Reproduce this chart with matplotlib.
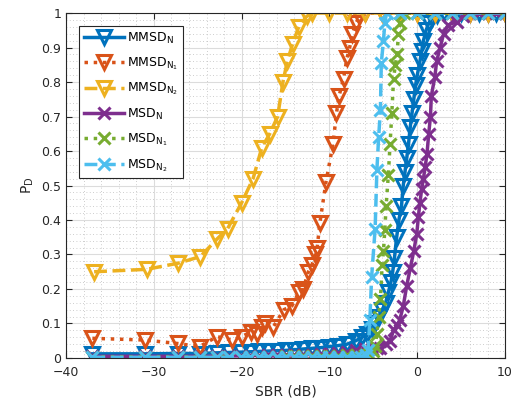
import matplotlib
matplotlib.use("Agg")
import matplotlib.pyplot as plt
from matplotlib.ticker import MultipleLocator

plt.rcParams['font.family'] = ['DejaVu Sans']
plt.rcParams['mathtext.default'] = 'regular'

low_x = [-37, -31, -27.3, -24.8, -22.8, -21.4, -20.1, -19, -18, -17, -16, -15,
         -14, -13, -12, -11, -10, -9, -8, -7]

# MMSD_N
mmsd_n_x = low_x + [-6.3, -5.7, -5.2, -4.8, -4.4, -4.0, -3.6, -3.3, -3.0, -2.8, -2.6,
                    -2.35, -2.1, -1.8, -1.6, -1.4, -1.2, -1.0, -0.8, -0.6, -0.4, -0.2,
                    0.0, 0.3, 0.5, 0.7, 1.0, 1.3, 1.7, 2.2, 3, 4, 5, 6, 7, 8, 9, 10]
mmsd_n_y = [0.012, 0.012, 0.013, 0.013, 0.015, 0.016, 0.017, 0.018, 0.019, 0.02,
            0.021, 0.022, 0.024, 0.026, 0.028, 0.03, 0.033, 0.036, 0.04, 0.05,
            0.06, 0.07, 0.085, 0.10, 0.12, 0.14, 0.16, 0.19, 0.22, 0.25, 0.29,
            0.35, 0.40, 0.44, 0.50, 0.54, 0.58, 0.62, 0.67, 0.71, 0.75, 0.79,
            0.82, 0.86, 0.89, 0.92, 0.95, 0.97, 0.985, 0.995, 1, 1, 1, 1, 1, 1, 1, 1]

# MMSD_N1
mmsd_n1_x = [-37, -31, -27.3, -24.8, -22.8, -21.1, -20, -18.9, -18.3, -17.7, -17.3,
             -16.4, -15.2, -14.3, -13.5, -13.0, -12.4, -12.0, -11.6, -11.4, -11.1,
             -10.4, -9.6, -9.2, -8.9, -8.4, -8.0, -7.7, -7.4, -7.0, -6.6, -6, -4,
             -2, 0, 2, 4, 6, 8, 10]
mmsd_n1_y = [0.057, 0.052, 0.042, 0.033, 0.062, 0.052, 0.062, 0.076, 0.07, 0.09, 0.10,
             0.09, 0.14, 0.15, 0.19, 0.20, 0.25, 0.27, 0.30, 0.32, 0.39,
             0.51, 0.62, 0.71, 0.76, 0.81, 0.87, 0.90, 0.94, 0.97, 0.99, 1, 1,
             1, 1, 1, 1, 1, 1, 1]

# MMSD_N2
mmsd_n2_x = [-36.8, -30.8, -27.2, -24.7, -22.8, -21.6, -20.0, -18.7, -17.7, -16.8,
             -15.9, -15.3, -14.8, -14.2, -13.5, -12.6, -12, -10, -8, -6, -4, -2,
             0, 2, 4, 6, 8, 10]
mmsd_n2_y = [0.25, 0.257, 0.275, 0.294, 0.345, 0.375, 0.45, 0.52, 0.61, 0.65,
             0.70, 0.80, 0.86, 0.91, 0.96, 0.99, 1, 1, 1, 1, 1, 1,
             1, 1, 1, 1, 1, 1]

# MSD_N
msd_n_x = low_x + [-6, -5.2, -4.6, -4.2, -3.6, -3.1, -2.7, -2.3, -2.0, -1.6, -1.2,
                   -0.8, -0.4, -0.06, 0.13, 0.3, 0.5, 0.7, 0.9, 1.1, 1.3, 1.5, 1.6,
                   2.0, 2.2, 2.6, 3.0, 3.5, 4.5, 5.2, 6, 7, 8, 9, 10]
msd_n_y = [0.005, 0.005, 0.005, 0.005, 0.005, 0.006, 0.006, 0.007, 0.007, 0.008,
           0.008, 0.009, 0.009, 0.01, 0.01, 0.011, 0.012, 0.014, 0.018, 0.022,
           0.025, 0.025, 0.028, 0.03, 0.04, 0.05, 0.08, 0.095, 0.11, 0.15, 0.21,
           0.26, 0.31, 0.36, 0.41, 0.45, 0.49, 0.52, 0.555, 0.59, 0.65, 0.70, 0.76,
           0.815, 0.86, 0.90, 0.94, 0.965, 0.975, 0.99, 1, 1, 1, 1, 1]

# MSD_N1
msd_n1_x = low_x + [-6, -5.5, -5.0, -4.8, -4.6, -4.4, -4.2, -4.0, -3.85, -3.7, -3.55,
                    -3.3, -3.1, -2.9, -2.7, -2.5, -2.3, -2.15, -2.0, -1.5, 0, 2, 4,
                    6, 8, 10]
msd_n1_y = [0.003, 0.003, 0.003, 0.003, 0.003, 0.003, 0.003, 0.003, 0.004, 0.004,
            0.004, 0.005, 0.005, 0.005, 0.006, 0.006, 0.007, 0.007, 0.008, 0.009,
            0.01, 0.012, 0.02, 0.035, 0.07, 0.12, 0.17, 0.27, 0.31, 0.37, 0.44,
            0.53, 0.62, 0.71, 0.81, 0.85, 0.88, 0.94, 0.97, 1, 1, 1, 1,
            1, 1, 1]

# MSD_N2
msd_n2_x = low_x + [-6.4, -5.8, -5.6, -5.4, -5.2, -4.8, -4.6, -4.4, -4.2, -4.1, -3.85,
                    -3.7, -3.5, -2, 0, 2, 4, 6, 8, 10]
msd_n2_y = [0.002, 0.002, 0.002, 0.002, 0.002, 0.002, 0.002, 0.002, 0.002, 0.002,
            0.002, 0.002, 0.002, 0.002, 0.002, 0.002, 0.003, 0.003, 0.003, 0.003,
            0.004, 0.008, 0.023, 0.11, 0.235, 0.375, 0.545, 0.64, 0.72, 0.855, 0.92,
            0.97, 1, 1, 1, 1, 1, 1, 1, 1]

labels = [r'MMSD$_{N}$', r'MMSD$_{N_1}$', r'MMSD$_{N_2}$',
          r'MSD$_{N}$', r'MSD$_{N_1}$', r'MSD$_{N_2}$']
colors = ['#0072BD', '#D95319', '#EDB120', '#7E2F8E', '#77AC30', '#4DBEEE']
styles = ['-', ':', '--', '-', ':', '--']
markers = ['v', 'v', 'v', 'x', 'x', 'x']

series = [(mmsd_n_x, mmsd_n_y), (mmsd_n1_x, mmsd_n1_y), (mmsd_n2_x, mmsd_n2_y),
          (msd_n_x, msd_n_y), (msd_n1_x, msd_n1_y), (msd_n2_x, msd_n2_y)]

fig = plt.figure(figsize=(5.17, 4.03), dpi=100)
ax = fig.add_axes([0.1277, 0.1117, 0.8493, 0.856])

for (xs, ys), lab, c, ls, m in zip(series, labels, colors, styles, markers):
    if m == 'v':
        ax.plot(xs, ys, linestyle=ls, color=c, marker=m, markersize=9.5,
                markerfacecolor='none', markeredgewidth=2.2, linewidth=2.5, label=lab)
    else:
        ax.plot(xs, ys, linestyle=ls, color=c, marker=m, markersize=8.5,
                markeredgewidth=2.2, linewidth=2.5, label=lab)

ax.set_xlim(-40, 10)
ax.set_ylim(0, 1)
ax.xaxis.set_major_locator(MultipleLocator(10))
ax.xaxis.set_minor_locator(MultipleLocator(2))
ax.yaxis.set_minor_locator(MultipleLocator(0.02))
ax.set_yticks([i / 10 for i in range(11)])
ax.set_yticklabels(['0', '0.1', '0.2', '0.3', '0.4', '0.5', '0.6', '0.7', '0.8', '0.9', '1'])
ax.grid(True, which='major', color='#dcdcdc', linewidth=0.8, linestyle='-')
ax.grid(True, which='minor', color='#bdbdbd', linewidth=0.6, linestyle=(0, (1, 3)))
ax.set_axisbelow(True)
ax.tick_params(which='both', direction='in', top=True, right=True, colors='#262626',
               labelsize=9)
ax.tick_params(which='minor', length=0)
ax.tick_params(which='major', length=4)
ax.tick_params(axis='x', pad=6)
for s in ax.spines.values():
    s.set_color('#262626')
    s.set_linewidth(0.8)

ax.set_xlabel('SBR (dB)', fontsize=10, color='#262626')
ax.set_ylabel(r'P$_{D}$', fontsize=10, color='#262626')

leg = ax.legend(loc='upper left', bbox_to_anchor=(0.03, 0.962), borderaxespad=0,
                fontsize=9, handlelength=3.2, labelspacing=0.75, fancybox=False,
                framealpha=1, edgecolor='#262626', borderpad=0.35, handletextpad=0.3)
leg.get_frame().set_linewidth(0.8)

fig.savefig('out.png', dpi=100)
